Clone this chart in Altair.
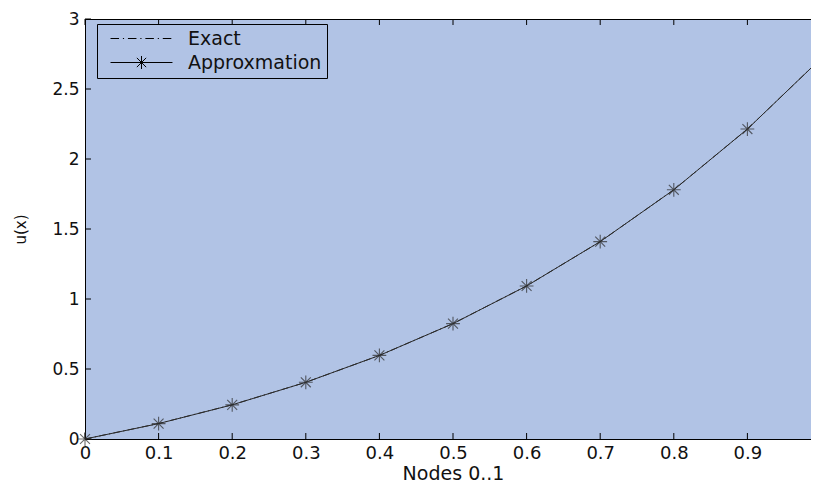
import altair as alt
import pandas as pd

# ---- data ----
nodes = [0.0, 0.1, 0.2, 0.3, 0.4, 0.5, 0.6, 0.7, 0.8, 0.9, 1.0]
exact = [0.0, 0.1105, 0.2443, 0.4050, 0.5967, 0.8244, 1.0933, 1.4096, 1.7804, 2.2136, 2.7183]
approx = [0.0, 0.110, 0.244, 0.405, 0.597, 0.824, 1.093, 1.410, 1.780, 2.214, 2.718]
x_ticks = [0.0, 0.1, 0.2, 0.3, 0.4, 0.5, 0.6, 0.7, 0.8, 0.9, 1.0]
y_ticks = [0.0, 0.5, 1.0, 1.5, 2.0, 2.5, 3.0]
series = ["Exact", "Approxmation"]

BG = "#B1C3E5"
LINE = "#2a2a2a"
FONT = "DejaVu Sans"
W, H = 736, 420
TICK = 6

ASTERISK = ("M-1,0L1,0M0,-1L0,1M-0.72,-0.72L0.72,0.72M-0.72,0.72L0.72,-0.72")
LEG_DASHDOT = ("M-4,0L-2.9,0M-2.4,0L-2.25,0M-1.75,0L-0.65,0M-0.15,0L0,0"
               "M0.5,0L1.6,0M2.1,0L2.25,0M2.75,0L3.85,0")
LEG_STAR = ("M-4,0L4,0M-0.84,0L0.84,0M0,-0.84L0,0.84"
            "M-0.6,-0.6L0.6,0.6M-0.6,0.6L0.6,-0.6")

df_exact = pd.DataFrame({"x": nodes, "y": exact})
df_approx = pd.DataFrame({"x": nodes, "y": approx})
df_xt = pd.DataFrame({"x": x_ticks})
df_yt = pd.DataFrame({"y": y_ticks})
df_leg = pd.DataFrame({"series": series, "x": [nodes[0]] * 2, "y": [exact[0]] * 2})

xs = alt.Scale(domain=[0, 1], nice=False, zero=False)
ys = alt.Scale(domain=[0, 3], nice=False, zero=False)

x_axis = alt.Axis(
    title="Nodes 0..1", values=x_ticks, format=".1~f",
    labelExpr="datum.value == 1 ? '' : datum.label",
    ticks=False, grid=False, labelFlush=False, labelOverlap=False, labelBound=False,
    labelPadding=5, labelFont=FONT, labelFontSize=18, labelColor="#111",
    titleFont=FONT, titleFontSize=19, titleFontWeight="normal", titleColor="#111",
    titleY=34, titleBaseline="middle", domainColor="black",
)
y_axis = alt.Axis(
    title="u(x)", values=y_ticks, format="~g",
    ticks=False, grid=False, labelFlush=False, labelOverlap=False, labelBound=False,
    labelPadding=6, labelFont=FONT, labelFontSize=17, labelColor="#111",
    titleFont=FONT, titleFontSize=15, titleFontWeight="normal", titleColor="#111",
    titleX=-65, titleBaseline="middle", domainColor="black",
)

X = alt.X("x:Q", scale=xs, axis=x_axis)
Y = alt.Y("y:Q", scale=ys, axis=y_axis)

exact_line = alt.Chart(df_exact).mark_line(
    color=LINE, strokeWidth=1, strokeDash=[7, 3, 1.5, 3]
).encode(x=X, y=Y)

approx_line = alt.Chart(df_approx).mark_line(color=LINE, strokeWidth=1).encode(x=X, y=Y)

approx_pts = alt.Chart(df_approx).mark_point(
    shape=ASTERISK, size=190, filled=False, color=LINE, strokeWidth=1.1
).encode(x=X, y=Y)

legend_layer = alt.Chart(df_leg).mark_point(opacity=0, filled=False).encode(
    x=X, y=Y,
    shape=alt.Shape(
        "series:N",
        scale=alt.Scale(domain=series, range=[LEG_DASHDOT, LEG_STAR]),
        legend=alt.Legend(
            title=None, orient="none", legendX=12, legendY=5,
            symbolSize=240, symbolOpacity=1, symbolStrokeColor="black",
            symbolStrokeWidth=1, symbolFillColor="transparent",
            symbolOffset=30, labelOffset=37,
            labelFont=FONT, labelFontSize=19, labelColor="#111",
            rowPadding=4, padding=5,
            strokeColor="black", fillColor=BG, cornerRadius=0,
        ),
    ),
)

bottom_ticks = alt.Chart(df_xt).mark_rule(color="black", strokeWidth=1).encode(
    x=X, y=alt.value(H), y2=alt.value(H - TICK))
top_ticks = alt.Chart(df_xt).mark_rule(color="black", strokeWidth=1).encode(
    x=X, y=alt.value(0), y2=alt.value(TICK))
left_ticks = alt.Chart(df_yt).mark_rule(color="black", strokeWidth=1).encode(
    y=Y, x=alt.value(0), x2=alt.value(TICK))
right_ticks = alt.Chart(df_yt).mark_rule(color="black", strokeWidth=1).encode(
    y=Y, x=alt.value(W - TICK), x2=alt.value(W))

chart = alt.layer(
    bottom_ticks, top_ticks, left_ticks, right_ticks,
    exact_line, approx_line, approx_pts, legend_layer,
).properties(
    width=W, height=H,
    padding={"left": 77, "top": 11, "right": -10, "bottom": 46},
    autosize=alt.AutoSizeParams(type="none"),
    background="white",
).configure_view(
    fill=BG, stroke="black", strokeWidth=1,
)

chart.save("out.html", embed_options={"renderer": "svg", "actions": False})
